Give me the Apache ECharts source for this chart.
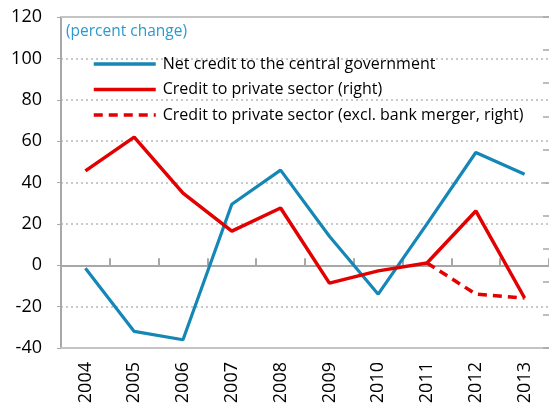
<!DOCTYPE html>
<html>
<head>
<meta charset="utf-8">
<script src="https://cdn.jsdelivr.net/npm/echarts@6/dist/echarts.min.js"></script>
<style>html,body{margin:0;padding:0;background:#fff}#c{width:549px;height:407px}</style>
</head>
<body>
<div id="c"></div>
<script>
const years = ['2004','2005','2006','2007','2008','2009','2010','2011','2012','2013'];
const netCreditGov = [-1.5, -32, -36, 29.5, 46, 14, -14, 20, 54.5, 44];
// right-axis units
const creditPrivate = [23.5, 33.7, 16.8, 5.3, 12.3, -10.4, -6.7, -4.3, 11.4, -14.9];
const creditPrivateExcl = [null, null, null, null, null, null, null, -4.3, -13.7, -14.9];
const leftTicks = {min: -40, max: 120, interval: 20};
const rightTicks = {min: -30, max: 70, interval: 10};

const FONT = '"Open Sans", "Noto Sans", sans-serif';
const BLUE = '#1487b6';
const RED = '#e30000';
const chart = echarts.init(document.getElementById('c'));
chart.setOption({
  animation: false,
  graphic: [{
    type: 'text', left: 66, top: 24,
    style: {text: '(percent change)', fill: '#2a9bd0', font: '15.5px ' + FONT}
  }],
  legend: {
    orient: 'vertical', left: 87, top: 51, itemGap: 9.5, itemWidth: 62, itemHeight: 16,
    itemStyle: {opacity: 0},
    lineStyle: {width: 3.5},
    textStyle: {fontSize: 16, fontFamily: FONT, color: '#000', padding: [0,0,0,2]},
    data: ['Net credit to the central government', 'Credit to private sector (right)', 'Credit to private sector (excl. bank merger, right)']
  },
  grid: {left: 61, right: 0, top: 17, bottom: 59},
  xAxis: [{
    type: 'category', data: years, position: 'bottom', boundaryGap: true,
    axisLine: {onZero: false, show: true, lineStyle: {color: '#c4c4c4', width: 2}},
    axisTick: {show: false},
    axisLabel: {rotate: 90, fontSize: 18, fontFamily: FONT, color: '#000', margin: 14}
  }, {
    type: 'category', data: years, position: 'bottom', boundaryGap: true,
    axisLine: {onZero: true, onZeroAxisIndex: 0, lineStyle: {color: '#a8a8a8', width: 2}},
    axisTick: {show: true, inside: true, length: 7, lineStyle: {color: '#a8a8a8', width: 2}},
    axisLabel: {show: false}
  }, {
    type: 'category', data: years, position: 'top', boundaryGap: true,
    axisLine: {onZero: false, show: true, lineStyle: {color: '#c4c4c4', width: 2}},
    axisTick: {show: false}, axisLabel: {show: false}
  }],
  yAxis: [{
    type: 'value', min: leftTicks.min, max: leftTicks.max, interval: leftTicks.interval,
    axisLine: {show: true, lineStyle: {color: '#a8a8a8', width: 2}},
    axisTick: {show: true, length: 4, lineStyle: {color: '#a8a8a8', width: 1}},
    axisLabel: {fontSize: 18, fontFamily: FONT, color: '#000', margin: 19},
    splitLine: {show: true, lineStyle: {color: '#b8b8b8', width: 1.5, type: [2, 3]}}
  }, {
    type: 'value', min: rightTicks.min, max: rightTicks.max, interval: rightTicks.interval,
    position: 'right',
    axisLine: {show: false},
    axisTick: {show: true, inside: true, length: 6, lineStyle: {color: '#a8a8a8', width: 1.5}},
    axisLabel: {show: false},
    splitLine: {show: false}
  }],
  series: [{
    name: 'Net credit to the central government', type: 'line', data: netCreditGov,
    xAxisIndex: 0, yAxisIndex: 0, symbol: 'none', color: BLUE,
    lineStyle: {color: BLUE, width: 3.2}
  }, {
    name: 'Credit to private sector (excl. bank merger, right)', type: 'line', data: creditPrivateExcl,
    xAxisIndex: 0, yAxisIndex: 1, symbol: 'none', color: RED,
    lineStyle: {color: RED, width: 3.5, type: [9, 6]}
  }, {
    name: 'Credit to private sector (right)', type: 'line', data: creditPrivate,
    xAxisIndex: 0, yAxisIndex: 1, symbol: 'none', color: RED,
    lineStyle: {color: RED, width: 3.5}
  }]
});
</script>
</body>
</html>
